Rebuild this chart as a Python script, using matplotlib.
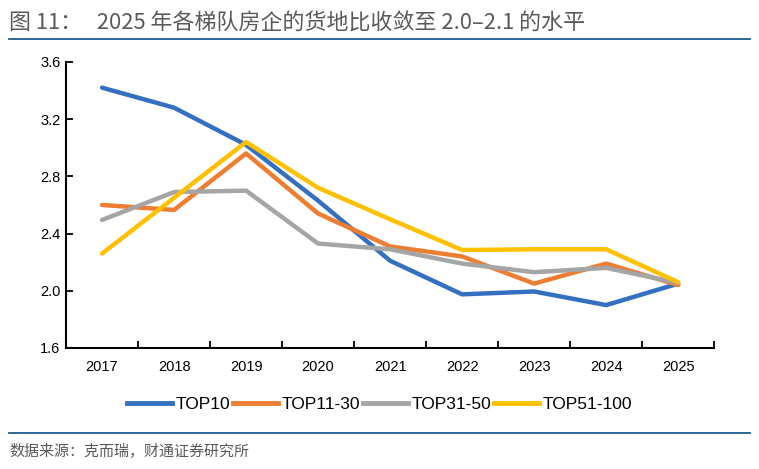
import matplotlib.pyplot as plt
import numpy as np
from matplotlib.lines import Line2D

plt.rcParams['font.family'] = ['Liberation Sans', 'Noto Sans CJK SC', 'DejaVu Sans']

years = ["2017", "2018", "2019", "2020", "2021", "2022", "2023", "2024", "2025"]
top10 = [3.42, 3.28, 3.02, 2.63, 2.21, 1.975, 1.995, 1.90, 2.05]
top11_30 = [2.60, 2.565, 2.96, 2.54, 2.31, 2.24, 2.05, 2.19, 2.04]
top31_50 = [2.495, 2.69, 2.70, 2.33, 2.29, 2.19, 2.13, 2.16, 2.055]
top51_100 = [2.26, 2.65, 3.04, 2.72, 2.50, 2.285, 2.29, 2.29, 2.06]

series_names = ["TOP10", "TOP11-30", "TOP31-50", "TOP51-100"]
colors = ["#3470C2", "#ED7D31", "#A5A5A5", "#FFC000"]

fig = plt.figure(figsize=(7.59, 4.69), dpi=100)
ax = fig.add_axes([0.087, 0.258, 0.854, 0.610])

x = np.arange(len(years))
for vals, name, c in zip([top10, top11_30, top31_50, top51_100], series_names, colors):
    ax.plot(x, vals, color=c, lw=3.2, label=name, solid_capstyle='round', solid_joinstyle='round')

ax.set_xlim(-0.5, len(years) - 0.5)
ax.set_ylim(1.6, 3.6)
ax.set_yticks([1.6, 2.0, 2.4, 2.8, 3.2, 3.6])
ax.set_yticklabels(["1.6", "2.0", "2.4", "2.8", "3.2", "3.6"])
ax.set_xticks(x)
ax.set_xticklabels(years)
ax.set_xticks(np.arange(len(years) + 1) - 0.5, minor=True)
ax.tick_params(axis='x', which='major', length=0, pad=9, labelsize=10.5)
ax.tick_params(axis='x', which='minor', length=5, width=1.3, direction='in')
ax.tick_params(axis='y', length=5, width=1.3, direction='in', labelsize=10.5, pad=4)
for s in ['top', 'right']:
    ax.spines[s].set_visible(False)
for s in ['left', 'bottom']:
    ax.spines[s].set_linewidth(1.5)

handles = [Line2D([0], [0], color=c, lw=3.5) for c in colors]
fig.legend(handles, series_names, loc='center', bbox_to_anchor=(0.5, 0.137), ncol=4,
           frameon=False, fontsize=12.5, handlelength=2.6, handletextpad=0.2, columnspacing=0.15)

# title and footer
fig.text(0.012, 0.950, "图 11：   2025 年各梯队房企的货地比收敛至 2.0–2.1 的水平",
         fontsize=15.8, color="#595959", fontweight='medium', va='center',
         family=['Noto Sans CJK SC', 'DejaVu Sans'])
fig.add_artist(Line2D([0.012, 0.988], [0.916, 0.916], color="#1F5C8B", lw=1.3))
fig.add_artist(Line2D([0.012, 0.988], [0.077, 0.077], color="#1F5C8B", lw=1.3))
fig.text(0.012, 0.040, "数据来源：克而瑞，财通证券研究所", fontsize=10.8, color="#595959",
         va='center', family=['Noto Sans CJK SC', 'DejaVu Sans'])

fig.savefig("out.png", dpi=100)
